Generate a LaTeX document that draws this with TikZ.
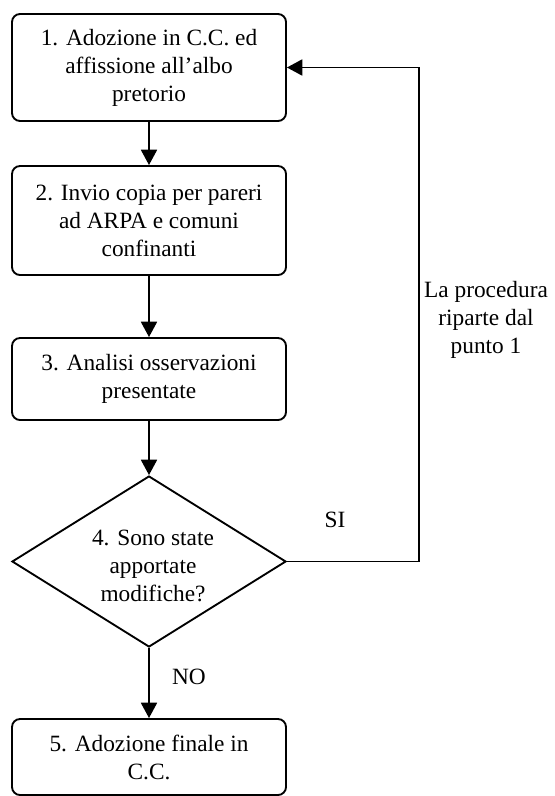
\documentclass[tikz,border=0pt]{standalone}
\usepackage{fontspec}
\setmainfont{Liberation Serif}
\usetikzlibrary{shapes.geometric,arrows.meta}
\begin{document}
\begin{tikzpicture}[x=0.75pt,y=-0.75pt,
  every node/.style={font=\fontsize{17.5}{21}\selectfont},
  box/.style={draw, line width=1.4pt, rounded corners=6pt, minimum width=205.5pt, align=center, inner sep=0pt},
  dec/.style={draw, diamond, line width=1.4pt, minimum width=205.5pt, minimum height=128.25pt, inner sep=0pt},
  conn/.style={line width=1.4pt, -{Triangle[width=12pt,length=11.5pt]}},
  lbl/.style={align=center, inner sep=0pt}]
\useasboundingbox (0,0) rectangle (555,796);
\node[box, minimum height=80.25pt] (b1) at (149,67.5) {1. Adozione in C.C. ed\\affissione all'albo\\pretorio};
\node[box, minimum height=81.75pt] (b2) at (149,220.5) {2. Invio copia per pareri\\ad ARPA e comuni\\confinanti};
\node[box, minimum height=61.5pt] (b3) at (149,379) {3. Analisi osservazioni\\presentate};
\node[dec] (d) at (149,561.5) {};
\node[lbl] (dt) at (153,566) {4. Sono state\\apportate\\modifiche?};
\node[box, minimum height=57pt] (b5) at (149,757) {5. Adozione finale in\\C.C.};
\coordinate (c2) at (419,67.5);
\draw[conn] (b1) -- (b2);
\draw[conn] (b2) -- (b3);
\draw[conn] (b3) -- (d.north);
\draw[conn] (d.south) -- (b5);
\draw[conn] (d.east) -| (c2) -- (b1.east);
\node[lbl] (si) at (335,520) {SI};
\node[lbl] (no) at (189,677) {NO};
\node[lbl] (lp) at (486,320) {La procedura\\riparte dal\\punto 1};
\end{tikzpicture}
\end{document}
